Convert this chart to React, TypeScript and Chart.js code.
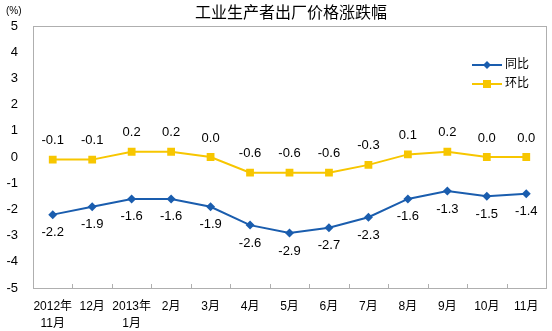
import React, { useEffect, useRef } from "react";
import { Chart, registerables } from "chart.js";
Chart.register(...registerables);

const categories: (string | string[])[] = [
  ["2012年", "11月"], "12月", ["2013年", "1月"], "2月", "3月", "4月", "5月", "6月", "7月", "8月", "9月", "10月", "11月",
];
const yoy = [-2.2, -1.9, -1.6, -1.6, -1.9, -2.6, -2.9, -2.7, -2.3, -1.6, -1.3, -1.5, -1.4];
const mom = [-0.1, -0.1, 0.2, 0.2, 0.0, -0.6, -0.6, -0.6, -0.3, 0.1, 0.2, 0.0, 0.0];
const seriesNames = ["同比", "环比"];
const title = "工业生产者出厂价格涨跌幅";
const unit = "(%)";

const BLUE = "#1A5DAE";
const YELLOW = "#F7C600";
const FONT = '"Liberation Sans", "Noto Sans CJK SC", sans-serif';

const decor = {
  id: "decor",
  afterDatasetsDraw(chart: any) {
    const { ctx, chartArea: a } = chart;
    ctx.save();
    ctx.strokeStyle = "#AFAFAF";
    ctx.lineWidth = 1;
    ctx.strokeRect(Math.round(a.left) + 0.5, Math.round(a.top) + 0.5, Math.round(a.right - a.left), Math.round(a.bottom - a.top));
    const n = categories.length;
    const w = (a.right - a.left) / n;
    for (let i = 1; i < n; i++) {
      const px = Math.round(a.left + w * i) + 0.5;
      ctx.beginPath();
      ctx.moveTo(px, a.bottom);
      ctx.lineTo(px, a.bottom - 4);
      ctx.stroke();
    }
    ctx.fillStyle = "#000";
    ctx.font = "13px " + FONT;
    ctx.textAlign = "center";
    ctx.textBaseline = "middle";
    const m0 = chart.getDatasetMeta(0);
    m0.data.forEach((p: any, i: number) => {
      ctx.fillText(yoy[i].toFixed(1), p.x, p.y + 18);
    });
    const m1 = chart.getDatasetMeta(1);
    m1.data.forEach((p: any, i: number) => {
      ctx.fillText(mom[i].toFixed(1), p.x, p.y - 19);
    });
    ctx.font = "16px " + FONT;
    ctx.fillText(title, 291, 14);
    ctx.font = "10px " + FONT;
    ctx.textAlign = "left";
    ctx.fillText(unit, 6, 11);
    const items = [
      { name: seriesNames[0], color: BLUE, shape: "diamond", y: 65 },
      { name: seriesNames[1], color: YELLOW, shape: "square", y: 84 },
    ];
    items.forEach((it) => {
      ctx.strokeStyle = it.color;
      ctx.lineWidth = 2;
      ctx.beginPath();
      ctx.moveTo(472, it.y);
      ctx.lineTo(502, it.y);
      ctx.stroke();
      ctx.fillStyle = it.color;
      ctx.beginPath();
      if (it.shape === "diamond") {
        ctx.moveTo(487, it.y - 4);
        ctx.lineTo(491, it.y);
        ctx.lineTo(487, it.y + 4);
        ctx.lineTo(483, it.y);
        ctx.closePath();
        ctx.fill();
      } else {
        ctx.fillRect(483, it.y - 4, 8, 8);
      }
      ctx.fillStyle = "#000";
      ctx.font = "12px " + FONT;
      ctx.textAlign = "left";
      ctx.fillText(it.name, 505, it.y);
    });
    ctx.restore();
  },
};

export default function App() {
  const ref = useRef<HTMLCanvasElement>(null);
  useEffect(() => {
    const chart = new Chart(ref.current!, {
      type: "line",
      data: {
        labels: categories as any,
        datasets: [
          {
            label: seriesNames[0],
            data: yoy,
            borderColor: BLUE,
            backgroundColor: BLUE,
            borderWidth: 2,
            pointStyle: "rectRot",
            pointRadius: 4.5,
            pointBorderWidth: 0,
          },
          {
            label: seriesNames[1],
            data: mom,
            borderColor: YELLOW,
            backgroundColor: YELLOW,
            borderWidth: 2,
            pointStyle: "rect",
            pointRadius: 5.5,
            pointBorderWidth: 0,
          },
        ],
      },
      options: {
        animation: false,
        responsive: false,
        layout: { padding: { top: 26, right: 6, left: 0, bottom: 0 } },
        plugins: { legend: { display: false }, tooltip: { enabled: false }, title: { display: false } },
        scales: {
          x: {
            offset: true,
            grid: { display: false, drawTicks: false },
            border: { display: false },
            ticks: { color: "#000", font: { size: 12, family: FONT, lineHeight: 1.4 }, padding: 10, maxRotation: 0, autoSkip: false },
            afterFit: (s: any) => { s.height = 43; },
          },
          y: {
            min: -5,
            max: 5,
            grid: { display: false, drawTicks: false },
            border: { display: false },
            ticks: { stepSize: 1, color: "#000", font: { size: 13, family: FONT }, padding: 15 },
            afterFit: (s: any) => { s.width = 33; },
          },
        },
      },
      plugins: [decor],
    });
    return () => chart.destroy();
  }, []);
  return (
    <div style={{ position: "fixed", left: 0, top: 0, width: 552, height: 331, background: "#fff" }}>
      <canvas ref={ref} width={552} height={331} style={{ width: 552, height: 331 }} />
    </div>
  );
}
